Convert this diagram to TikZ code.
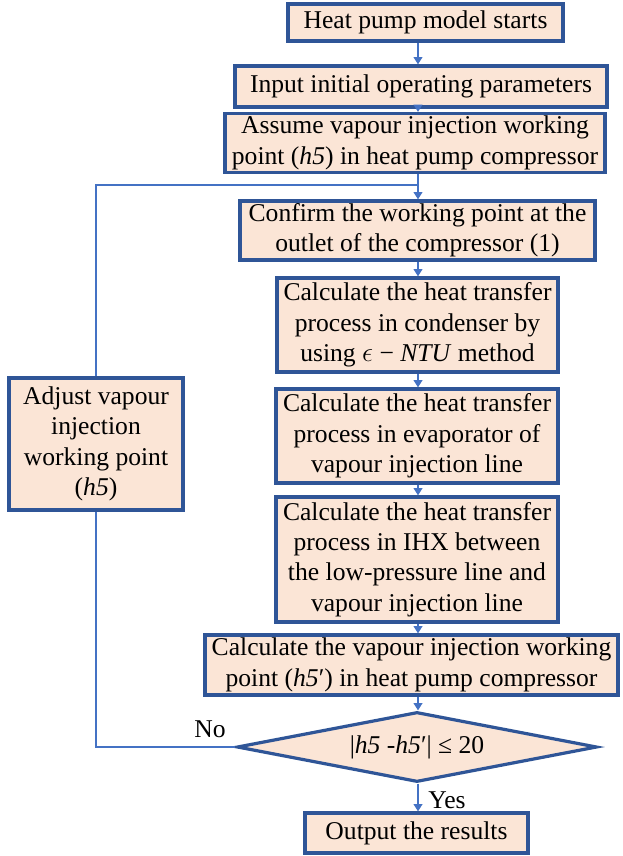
\documentclass[tikz,border=0pt]{standalone}
\usepackage{fontspec}
\setmainfont{Liberation Serif}
\usetikzlibrary{shapes.geometric,arrows.meta}
\definecolor{boxfill}{HTML}{FBE5D6}
\definecolor{boxline}{HTML}{2F5597}
\definecolor{flow}{HTML}{4472C4}
\begin{document}
\begin{tikzpicture}[x=0.75pt,y=-0.75pt,
  stepbox/.style={draw=boxline,fill=boxfill,line width=2.4pt,align=center,
    inner sep=0pt,font=\fontsize{19.2}{22.8}\selectfont},
  decision/.style={diamond,draw=boxline,fill=boxfill,line width=2.4pt,
    inner sep=0pt,font=\fontsize{19.2}{22.8}\selectfont},
  flowline/.style={draw=flow,line width=1.8pt},
  arr/.style={flowline,-{Triangle[width=6.5pt,length=5.5pt]}},
  lbl/.style={font=\fontsize{19.2}{22.8}\selectfont,inner sep=0pt}]
\useasboundingbox[fill=white] (0,0) rectangle (622,856);

\coordinate (ax) at (418,0);

\node[stepbox,minimum width=275*0.75pt,minimum height=37*0.75pt] (b1) at (425.5,22.5)
  {Heat pump model starts};
\node[stepbox,minimum width=372*0.75pt,minimum height=41*0.75pt] (b2) at (421,86.5)
  {Input initial operating parameters};
\node[stepbox,minimum width=380*0.75pt,minimum height=59*0.75pt] (b3) at (415,143)
  {Assume vapour injection working\\point (\textit{h5}) in heat pump compressor};
\node[stepbox,minimum width=355*0.75pt,minimum height=59*0.75pt] (b4) at (417.5,230.5)
  {Confirm the working point at the\\outlet of the compressor (1)};
\node[stepbox,minimum width=281*0.75pt,minimum height=94*0.75pt] (b5) at (417.5,325)
  {Calculate the heat transfer\\process in condenser by\\using $\epsilon$ − \textit{NTU} method};
\node[stepbox,minimum width=282*0.75pt,minimum height=94*0.75pt] (b6) at (417,436)
  {Calculate the heat transfer\\process in evaporator of\\vapour injection line};
\node[stepbox,minimum width=282*0.75pt,minimum height=125*0.75pt] (b7) at (417,559.5)
  {Calculate the heat transfer\\process in IHX between\\the low-pressure line and\\vapour injection line};
\node[stepbox,minimum width=413*0.75pt,minimum height=60*0.75pt] (b8) at (411.5,665)
  {Calculate the vapour injection working\\point (\textit{h5}′) in heat pump compressor};
\node[decision,minimum width=360*0.75pt,minimum height=70*0.75pt,aspect=5.14] (dec) at (417,747)
  {|\textit{h5} -\textit{h5}′| ≤ 20};
\node[stepbox,minimum width=223*0.75pt,minimum height=40*0.75pt] (out) at (416.5,833)
  {Output the results};
\node[stepbox,minimum width=174*0.75pt,minimum height=132*0.75pt] (adj) at (96,444)
  {Adjust vapour\\injection\\working point\\(\textit{h5})};

\coordinate (join) at (418,185);

% main sequence
\draw[arr] (b1.south -| ax) -- (b2.north -| ax);
\draw[arr] (b2.south -| ax) -- (b3.north -| ax);
\draw[arr] (b3.south -| ax) -- (b4.north -| ax);
\draw[arr] (b4.south -| ax) -- (b5.north -| ax);
\draw[arr] (b5.south -| ax) -- (b6.north -| ax);
\draw[arr] (b6.south -| ax) -- (b7.north -| ax);
\draw[arr] (b7.south -| ax) -- (b8.north -| ax);
\draw[arr] (b8.south -| ax) -- (dec.north -| ax);
\draw[arr] (dec.south -| ax) -- (out.north -| ax);

% iteration loop
\draw[flowline] (dec.west) -- (dec.west -| adj.south) -- (adj.south);
\draw[flowline] (adj.north) -- (adj.north |- join) -- (join);

\node[lbl] (no) at (210,729) {No};
\node[lbl] (yes) at (447,800) {Yes};
\end{tikzpicture}
\end{document}
